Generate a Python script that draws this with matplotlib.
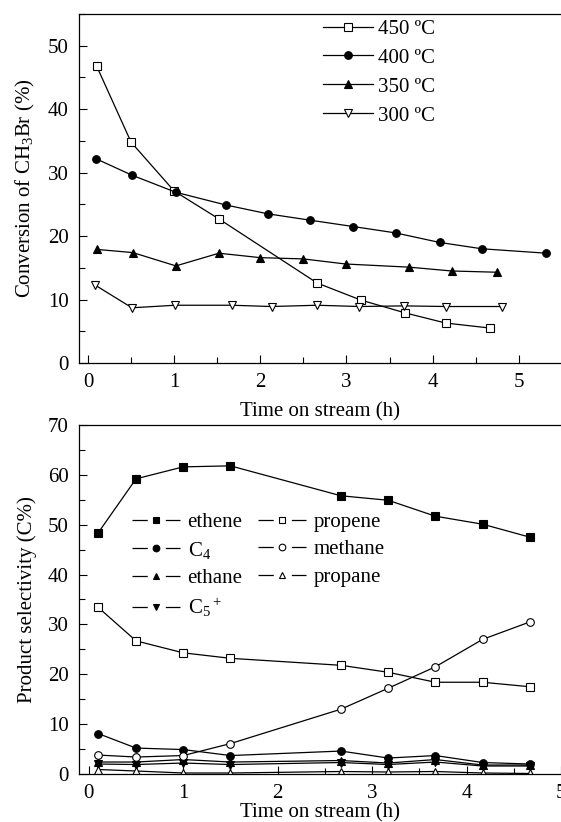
import matplotlib
matplotlib.use("Agg")
import matplotlib.pyplot as plt
import matplotlib.ticker as mticker
from matplotlib.lines import Line2D

plt.rcParams["font.family"] = ["Liberation Serif", "DejaVu Serif"]
plt.rcParams["mathtext.fontset"] = "custom"
plt.rcParams["mathtext.rm"] = "Liberation Serif"
plt.rcParams["mathtext.it"] = "Liberation Serif:italic"
plt.rcParams["lines.scale_dashes"] = False

# --- conversion vs time (top panel) ---
t_450 = [0.1, 0.5, 1.0, 1.52, 2.66, 3.17, 3.68, 4.15, 4.67]
conv_450 = [46.8, 34.8, 27.1, 22.7, 12.6, 9.9, 7.9, 6.3, 5.5]
t_400 = [0.09, 0.51, 1.02, 1.6, 2.09, 2.58, 3.08, 3.57, 4.08, 4.57, 5.32]
conv_400 = [32.2, 29.6, 26.9, 24.9, 23.5, 22.5, 21.5, 20.5, 19.0, 18.0, 17.3]
t_350 = [0.1, 0.52, 1.02, 1.52, 2.0, 2.5, 2.99, 3.73, 4.22, 4.75]
conv_350 = [17.9, 17.4, 15.3, 17.3, 16.6, 16.4, 15.6, 15.1, 14.5, 14.3]
t_300 = [0.08, 0.51, 1.01, 1.67, 2.13, 2.66, 3.15, 3.67, 4.16, 4.81]
conv_300 = [12.3, 8.7, 9.1, 9.1, 8.9, 9.1, 8.9, 9.0, 8.9, 8.9]

# --- product selectivity vs time (bottom panel) ---
t_sel = [0.1, 0.5, 1.0, 1.5, 2.67, 3.17, 3.67, 4.17, 4.67]
ethene = [48.4, 59.2, 61.6, 61.8, 55.8, 54.9, 51.7, 50.1, 47.5]
propene = [33.4, 26.7, 24.3, 23.2, 21.8, 20.4, 18.4, 18.4, 17.5]
c4 = [8.1, 5.2, 4.9, 3.7, 4.6, 3.2, 3.7, 2.3, 2.0]
methane = [3.8, 3.4, 3.7, 6.1, 13.0, 17.2, 21.5, 27.0, 30.5]
ethane = [2.4, 2.4, 2.9, 2.4, 2.7, 2.2, 2.9, 1.8, 1.8]
propane = [0.9, 0.6, 0.2, 0.2, 0.5, 0.4, 0.5, 0.2, 0.1]
c5 = [2.0, 1.9, 2.2, 1.9, 2.3, 1.9, 2.4, 1.6, 1.6]

FS = 15


def style_axis(ax, xmax, ymax, ystep, xlabelpad):
    ax.set_xlim(-0.1, xmax)
    ax.set_ylim(0, ymax)
    ax.xaxis.set_major_locator(mticker.MultipleLocator(1))
    ax.xaxis.set_minor_locator(mticker.MultipleLocator(0.5))
    ax.yaxis.set_major_locator(mticker.MultipleLocator(ystep))
    ax.yaxis.set_minor_locator(mticker.MultipleLocator(ystep / 2))
    ax.tick_params(which="both", direction="in", top=False, right=False,
                   labelsize=FS, pad=7.5, width=0.8)
    ax.tick_params(which="major", length=6)
    ax.tick_params(which="minor", length=4)
    ax.spines["right"].set_visible(False)
    for s in ("left", "bottom", "top"):
        ax.spines[s].set_linewidth(0.9)
    ax.set_xlabel("Time on stream (h)", fontsize=FS, labelpad=xlabelpad)


fig = plt.figure(figsize=(5.61, 8.22), dpi=100)
ax1 = fig.add_axes([0.1415, 0.5584, 0.8585, 0.4246])
ax2 = fig.add_axes([0.1415, 0.0584, 0.8585, 0.4246])

line_kw = dict(color="black", linewidth=0.9, markersize=5.5, markeredgewidth=0.8)

# top panel
ax1.plot(t_450, conv_450, marker="s", mfc="white", label="450 ºC", **line_kw)
ax1.plot(t_400, conv_400, marker="o", mfc="black", label="400 ºC", **line_kw)
ax1.plot(t_350, conv_350, marker="^", mfc="black", label="350 ºC", **line_kw)
ax1.plot(t_300, conv_300, marker="v", mfc="white", label="300 ºC", **line_kw)
style_axis(ax1, 5.49, 55, 10, 7)
ax1.set_ylabel("Conversion of CH$_3$Br (%)", fontsize=FS, labelpad=8)
ax1.legend(loc="upper left", bbox_to_anchor=(0.505, 0.985), frameon=False,
           fontsize=FS, handlelength=2.4, handletextpad=0.25,
           labelspacing=0.45, borderpad=0, borderaxespad=0)

# bottom panel
series = [
    (ethene, "s", "black", "ethene"),
    (c4, "o", "black", "C$_4$"),
    (ethane, "^", "black", "ethane"),
    (c5, "v", "black", "C$_5$$^+$"),
    (propene, "s", "white", "propene"),
    (methane, "o", "white", "methane"),
    (propane, "^", "white", "propane"),
]
handles = []
for vals, mk, fc, lab in series:
    ax2.plot(t_sel, vals, marker=mk, mfc=fc, **line_kw)
    handles.append(Line2D([], [], color="black", linewidth=0.9,
                          linestyle=(0, (11, 13)), marker=mk, mfc=fc,
                          markersize=4.8, markeredgewidth=0.8, label=lab))
style_axis(ax2, 5.0, 70, 10, 0)
ax2.set_ylabel("Product selectivity (C%)", fontsize=FS, labelpad=8)
ax2.legend(handles=handles, ncol=2, loc="upper left",
           bbox_to_anchor=(0.11, 0.75), frameon=False, fontsize=FS,
           handlelength=2.3, handletextpad=0.35, labelspacing=0.38,
           columnspacing=0.75, borderpad=0, borderaxespad=0)

fig.savefig("out.png", dpi=100)
